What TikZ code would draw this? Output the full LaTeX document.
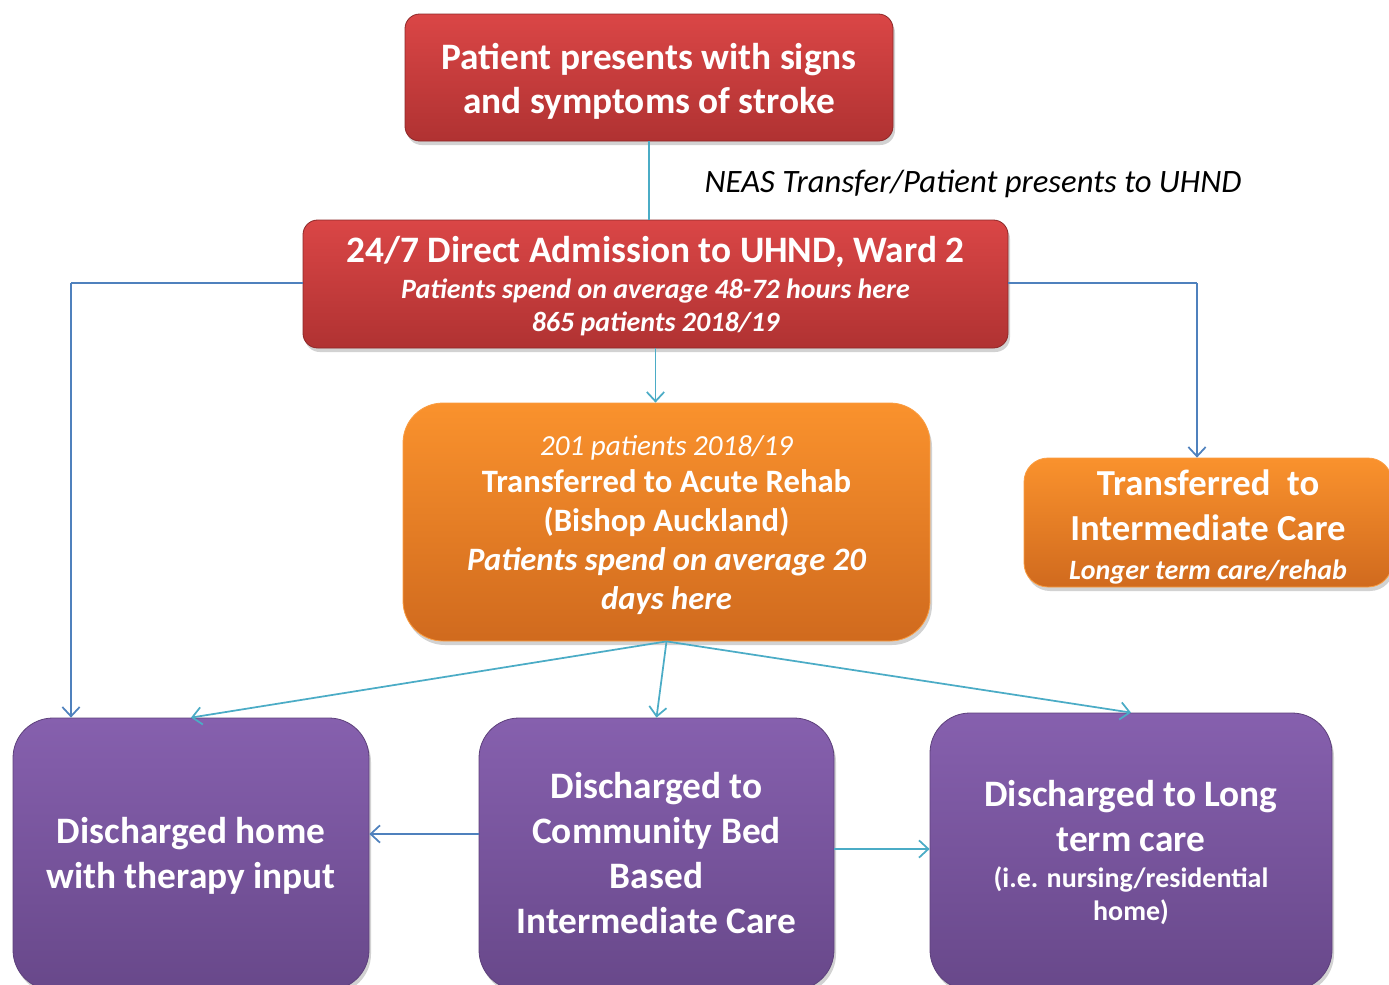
\documentclass[tikz,border=0pt]{standalone}
\usepackage{fontspec}
\setmainfont{Carlito}
\usetikzlibrary{shadows,arrows.meta,calc}
\definecolor{redtop}{RGB}{218,70,70}
\definecolor{redbot}{RGB}{176,50,50}
\definecolor{orgtop}{RGB}{250,146,45}
\definecolor{orgbot}{RGB}{208,106,30}
\definecolor{purtop}{RGB}{134,96,174}
\definecolor{purbot}{RGB}{104,72,138}
\definecolor{teal}{RGB}{75,172,198}
\definecolor{blueline}{RGB}{79,129,189}
\newcommand{\fs}[2]{\fontsize{#1}{#2}\selectfont}
\tikzset{
  boxbase/.style={inner sep=0pt,
    drop shadow={opacity=0.35, shadow xshift=1.5pt, shadow yshift=-3pt}},
  redbox/.style={boxbase, rounded corners=11pt, draw=redbot!80!black, line width=0.6pt,
    top color=redtop, bottom color=redbot},
  orgbox/.style={boxbase, rounded corners=30pt, draw=orgtop!90!white, line width=0.6pt,
    top color=orgtop, bottom color=orgbot},
  purbox/.style={boxbase, rounded corners=30pt, draw=purbot!90!black, line width=0.6pt,
    top color=purtop, bottom color=purbot},
  boxtext/.style={text=white, align=center, inner sep=0pt},
  tline/.style={draw=teal, line width=1.3pt},
  bline/.style={draw=blueline, line width=1.3pt},
  tarrow/.style={tline, -{Straight Barb[length=7pt,width=13pt,line width=1.3pt]}},
  barrow/.style={bline, -{Straight Barb[length=7pt,width=13pt,line width=1.3pt]}},
}
\begin{document}
\begin{tikzpicture}[x=0.75pt,y=-0.75pt]
\useasboundingbox (0,0) rectangle (1389,985);
\fill[white] (0,0) rectangle (1389,985);

% boxes
\node[redbox, minimum width={488*0.75pt}, minimum height={127*0.75pt}] (b1) at (649,77.5) {};
\node[redbox, minimum width={705*0.75pt}, minimum height={128*0.75pt}] (b2) at (655.5,284) {};
\node[orgbox, minimum width={527*0.75pt}, minimum height={238*0.75pt}] (o1) at (666.5,522) {};
\node[orgbox, rounded corners=18pt, minimum width={368*0.75pt}, minimum height={129*0.75pt}] (o2) at (1208,522.5) {};
\node[purbox, minimum width={356*0.75pt}, minimum height={272*0.75pt}] (p1) at (191,854) {};
\node[purbox, minimum width={355*0.75pt}, minimum height={272*0.75pt}] (p2) at (656.5,854) {};
\node[purbox, minimum width={402*0.75pt}, minimum height={277*0.75pt}] (p3) at (1131,851.5) {};

% texts
\node[boxtext, font=\fs{28pt}{33pt}\bfseries] (b1t) at ($(b1)+(0,4)$)
  {Patient presents with signs\\ and symptoms of stroke};

\node[boxtext, font=\fs{28pt}{29.25pt}\bfseries] (b2t) at ($(b2)+(0,2.5)$)
  {24/7 Direct Admission to UHND, Ward 2\\[-2.25pt]
   {\fs{21pt}{25pt}\bfseries\itshape Patients spend on average 48-72 hours here}\\[-4.5pt]
   {\fs{21pt}{25pt}\bfseries\itshape 865 patients 2018/19}};

\node[font=\fs{24.5pt}{28pt}\itshape, text=black] (neas) at (973,184) {NEAS Transfer/Patient presents to UHND};

\node[boxtext, font=\fs{24.5pt}{29.25pt}\bfseries] (o1t) at ($(o1)+(0,3)$)
  {{\fs{21.8pt}{26pt}\mdseries\itshape 201 patients 2018/19}\\[-1.5pt]
   Transferred to Acute Rehab\\
   (Bishop Auckland)\\
   {\itshape Patients spend on average 20}\\
   {\itshape days here}};

\node[boxtext, font=\fs{27.5pt}{33.75pt}\bfseries] (o2t) at ($(o2)+(0,4)$)
  {Transferred\ \ to\\
   Intermediate Care\\[-4.5pt]
   {\fs{21pt}{25pt}\bfseries\itshape Longer term care/rehab}};

\node[boxtext, font=\fs{28pt}{33.75pt}\bfseries] (p1t) at ($(p1)+(0,2)$)
  {Discharged home\\ with therapy input};

\node[boxtext, font=\fs{28pt}{33.75pt}\bfseries] (p2t) at ($(p2)+(0,-1)$)
  {Discharged to\\ Community Bed\\ Based\\ Intermediate Care};

\node[boxtext, font=\fs{28pt}{33.75pt}\bfseries] (p3t) at ($(p3)+(0,1.5)$)
  {Discharged to Long\\ term care\\[-6.75pt]
   {\fs{21pt}{25pt}\bfseries (i.e. nursing/residential}\\[-9pt]
   {\fs{21pt}{25pt}\bfseries home)}};

% connectors
\coordinate (lc) at (71,283);
\coordinate (rc) at (1197,283);

\draw[tline] (b1.south) -- (b1.south |- b2.north);
\draw[tarrow] (b2.south) -- (b2.south |- o1.north);
\draw[bline] (b2.west |- lc) -- (lc);
\draw[barrow] (lc) -- (lc |- p1.north);
\draw[bline] (b2.east |- rc) -- (rc);
\draw[barrow] (rc) -- (rc |- o2.north);
\draw[tarrow] (o1.south) -- (p1.north);
\draw[tarrow] (o1.south) -- (p2.north);
\draw[tarrow] (o1.south) -- (p3.north);
\draw[barrow] ($(p2.west)+(0,-20)$) -- ($(p1.east)+(0,-20)$);
\draw[tarrow] ($(p2.east)+(0,-5)$) -- ($(p3.west)+(0,-2.5)$);
\end{tikzpicture}
\end{document}
